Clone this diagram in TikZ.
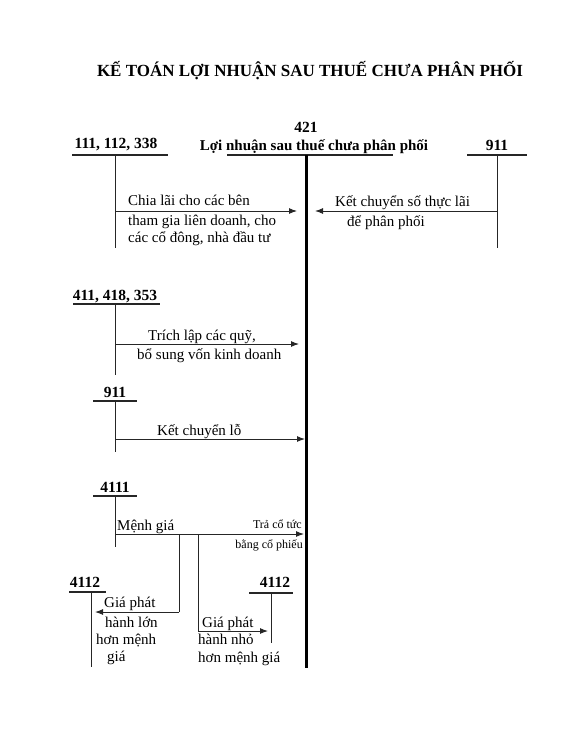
\documentclass[tikz,border=0pt]{standalone}
\usepackage{fontspec}
\setmainfont{Liberation Serif}
\usetikzlibrary{arrows.meta}
\tikzset{
  acclabel/.style={font=\bfseries\fontsize{15.5}{18}\selectfont, inner sep=0pt, anchor=base},
  txt/.style={font=\fontsize{15}{18}\selectfont, inner sep=0pt, anchor=base west},
  smalltxt/.style={font=\fontsize{12}{14}\selectfont, inner sep=0pt, anchor=base east},
  tbar/.style={line width=1.7pt, draw=black!85},
  tleg/.style={line width=1pt, draw=black!85},
  mainleg/.style={line width=3pt, draw=black},
  flow/.style={line width=1pt, draw=black!85, -{Latex[length=8pt,width=6pt]}},
  branch/.style={line width=1pt, draw=black!85}
}
\begin{document}
\begin{tikzpicture}[x=1pt,y=-1pt]
\useasboundingbox (0,0) rectangle (574,733);
% title
\node[font=\bfseries\fontsize{17}{20}\selectfont, inner sep=0pt, anchor=base] (title) at (310,77) {KẾ TOÁN LỢI NHUẬN SAU THUẾ CHƯA PHÂN PHỐI};
% main account 421
\node[acclabel] (n421) at (306,132) {421};
\node[font=\bfseries\fontsize{15}{18}\selectfont, inner sep=0pt, anchor=base] (n421name) at (314,150) {Lợi nhuận sau thuế chưa phân phối};
\coordinate (mainL) at (227,155);
\coordinate (mainR) at (393,155);
\coordinate (mainTop) at (306,155);
\coordinate (mainBot) at (306,668);
\draw[tbar] (mainL) -- (mainR);
\draw[mainleg] (mainTop) -- (mainBot);
% 111,112,338
\node[acclabel] (acc111) at (116,149) {111, 112, 338};
\coordinate (a111L) at (72,155);
\coordinate (a111R) at (168,155);
\coordinate (a111T) at (115,155);
\coordinate (a111B) at (115,248);
\draw[tbar] (a111L) -- (a111R);
\draw[tleg] (a111T) -- (a111B);
% 911 right
\node[acclabel] (acc911a) at (497,150) {911};
\coordinate (a911L) at (467,155);
\coordinate (a911R) at (527,155);
\coordinate (a911T) at (497,155);
\coordinate (a911B) at (497,248);
\draw[tbar] (a911L) -- (a911R);
\draw[tleg] (a911T) -- (a911B);
% arrows row 1
\coordinate (f1s) at (115,211);
\coordinate (f1e) at (297,211);
\draw[flow] (f1s) -- (f1e);
\coordinate (f2s) at (497,211);
\coordinate (f2e) at (315,211);
\draw[flow] (f2s) -- (f2e);
\node[txt] (t1a) at (128,205) {Chia lãi cho các bên};
\node[txt] (t1b) at (128,225) {tham gia liên doanh, cho};
\node[txt] (t1c) at (128,242) {các cổ đông, nhà đầu tư};
\node[txt] (t2a) at (335,206) {Kết chuyển số thực lãi};
\node[txt] (t2b) at (347,226) {để phân phối};
% 411, 418, 353
\node[acclabel] (acc411) at (115,300) {411, 418, 353};
\coordinate (a411L) at (73,304);
\coordinate (a411R) at (160,304);
\coordinate (a411T) at (115,304);
\coordinate (a411B) at (115,375);
\draw[tbar] (a411L) -- (a411R);
\draw[tleg] (a411T) -- (a411B);
\coordinate (f3s) at (115,344);
\coordinate (f3e) at (299,344);
\draw[flow] (f3s) -- (f3e);
\node[txt] (t3a) at (148,340) {Trích lập các quỹ,};
\node[txt] (t3b) at (137,359) {bổ sung vốn kinh doanh};
% 911 middle
\node[acclabel] (acc911b) at (115,397) {911};
\coordinate (b911L) at (93,401);
\coordinate (b911R) at (137,401);
\coordinate (b911T) at (115,401);
\coordinate (b911B) at (115,452);
\draw[tbar] (b911L) -- (b911R);
\draw[tleg] (b911T) -- (b911B);
\coordinate (f4s) at (115,439);
\coordinate (f4e) at (305,439);
\draw[flow] (f4s) -- (f4e);
\node[txt] (t4) at (157,435) {Kết chuyển lỗ};
% 4111
\node[acclabel] (acc4111) at (115,492) {4111};
\coordinate (c4111L) at (93,496);
\coordinate (c4111R) at (137,496);
\coordinate (c4111T) at (115,496);
\coordinate (c4111B) at (115,547);
\draw[tbar] (c4111L) -- (c4111R);
\draw[tleg] (c4111T) -- (c4111B);
\coordinate (f5s) at (115,534);
\coordinate (f5e) at (304,534);
\draw[flow] (f5s) -- (f5e);
\node[txt] (t5) at (117,530) {Mệnh giá};
\node[smalltxt] (t6a) at (302,528) {Trả cổ tức};
\node[smalltxt] (t6b) at (303,548) {bằng cổ phiếu};
% branches
\coordinate (br1s) at (179,534);
\coordinate (br1c) at (179,612);
\coordinate (br1e) at (95,612);
\draw[branch] (br1s) -- (br1c);
\draw[flow] (br1c) -- (br1e);
\coordinate (br2s) at (198,534);
\coordinate (br2c) at (198,631);
\coordinate (br2e) at (268,631);
\draw[branch] (br2s) -- (br2c);
\draw[flow] (br2c) -- (br2e);
% 4112 left
\node[acclabel] (acc4112a) at (85,587) {4112};
\coordinate (d4112L) at (69,592);
\coordinate (d4112R) at (106,592);
\coordinate (d4112T) at (91,592);
\coordinate (d4112B) at (91,667);
\draw[tbar] (d4112L) -- (d4112R);
\draw[tleg] (d4112T) -- (d4112B);
\node[txt] (t7a) at (104,607) {Giá phát};
\node[txt] (t7b) at (105,627) {hành lớn};
\node[txt] (t7c) at (96,644) {hơn mệnh};
\node[txt] (t7d) at (107,661) {giá};
% 4112 right
\node[acclabel] (acc4112b) at (275,587) {4112};
\coordinate (e4112L) at (249,593);
\coordinate (e4112R) at (293,593);
\coordinate (e4112T) at (271,593);
\coordinate (e4112B) at (271,643);
\draw[tbar] (e4112L) -- (e4112R);
\draw[tleg] (e4112T) -- (e4112B);
\node[txt] (t8a) at (202,627) {Giá phát};
\node[txt] (t8b) at (198,644) {hành nhỏ};
\node[txt] (t8c) at (198,662) {hơn mệnh giá};
\end{tikzpicture}
\end{document}
